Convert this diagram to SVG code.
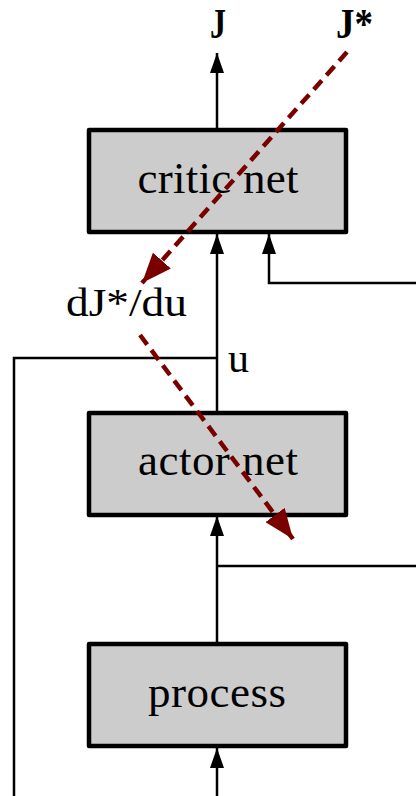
<svg xmlns="http://www.w3.org/2000/svg" width="416" height="796" viewBox="0 0 416 796">
<style>
.box{fill:#cccccc;stroke:#000;stroke-width:4.5;stroke-linejoin:round}
.lbl{font-family:"Liberation Serif","Times New Roman",serif;fill:#000}
.big{font-size:45px;text-anchor:middle}
.sm{font-size:41px}
.wire{fill:none;stroke:#000;stroke-width:2.5}
.grad{fill:none;stroke:#7a0000;stroke-width:4.5;stroke-dasharray:12 7}
</style>
<defs>
<marker id="ah" markerUnits="userSpaceOnUse" markerWidth="20" markerHeight="14" refX="20" refY="7" orient="auto" viewBox="0 0 20 14">
<path d="M0,0 L20,7 L0,14 Z" fill="#000"/>
</marker>
<marker id="rh" markerUnits="userSpaceOnUse" markerWidth="30" markerHeight="24" refX="30" refY="12" orient="auto" viewBox="0 0 30 24">
<path d="M0,0 L30,12 L0,24 Z" fill="#7a0000"/>
</marker>
</defs>
<g id="critic">
<rect class="box" x="89" y="130" width="257" height="102"/>
<text class="lbl big" x="218" y="193" textLength="161">critic net</text>
</g>
<g id="actor">
<rect class="box" x="89" y="413" width="257" height="102"/>
<text class="lbl big" x="218" y="475" textLength="160">actor net</text>
</g>
<g id="process">
<rect class="box" x="89" y="644" width="257" height="102"/>
<text class="lbl big" x="217" y="707" textLength="138">process</text>
</g>
<g id="labels">
<text class="lbl" x="210" y="38" font-size="42" font-weight="bold" textLength="16" lengthAdjust="spacingAndGlyphs">J</text>
<text class="lbl" x="336" y="38" font-size="42" font-weight="bold" textLength="37" lengthAdjust="spacingAndGlyphs">J*</text>
<text class="lbl sm" x="66" y="316" textLength="121" lengthAdjust="spacingAndGlyphs">dJ*/du</text>
<text class="lbl" x="228" y="372" font-size="42">u</text>
</g>
<g id="connectors">
<line class="wire" x1="217" y1="129" x2="217" y2="53" marker-end="url(#ah)"/>
<line class="wire" x1="217" y1="413" x2="217" y2="234" marker-end="url(#ah)"/>
<polyline class="wire" points="416,283 269,283 269,234" marker-end="url(#ah)"/>
<polyline class="wire" points="217,358 14,358 14,796"/>
<line class="wire" x1="217" y1="643" x2="217" y2="516" marker-end="url(#ah)"/>
<line class="wire" x1="217" y1="566" x2="416" y2="566"/>
<line class="wire" x1="217" y1="796" x2="217" y2="748" marker-end="url(#ah)"/>
<line class="grad" x1="347" y1="52" x2="142" y2="283" marker-end="url(#rh)"/>
<line class="grad" x1="140" y1="335" x2="293" y2="539" marker-end="url(#rh)"/>
</g>
</svg>
